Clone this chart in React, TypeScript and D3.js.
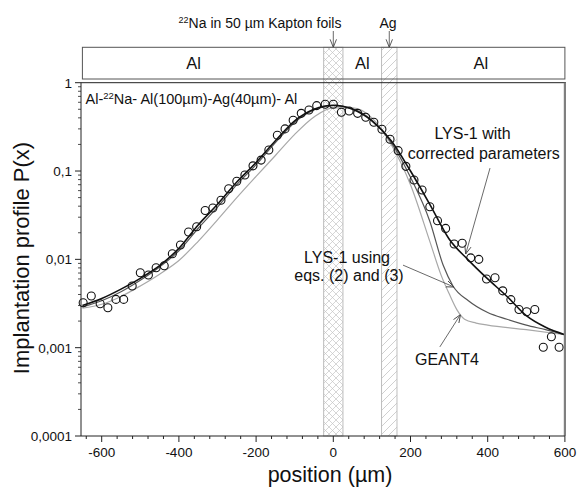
import React from "react";
import * as d3 from "d3";

// ---------- data ----------
const measX = [-648,-627,-604,-584,-563,-543,-521,-500,-479,-459,-438,-417,-396,-375,-354,-332,-312,-291,-271,-250,-229,-208,-187,-167,-145,-125,-104,-83,-63,-43,-21,0,21,41,63,84,105,126,147,168,188,209,230,250,270,291,313,334,356,377,397,419,439,460,481,501,522,544,565,585];
const measP = [0.00323,0.00384,0.00314,0.00283,0.00352,0.00352,0.00499,0.00705,0.00664,0.00803,0.00847,0.01157,0.01452,0.0204,0.0234,0.0357,0.0381,0.0466,0.063,0.0767,0.09,0.1145,0.133,0.173,0.254,0.3,0.375,0.45,0.49,0.55,0.57,0.57,0.462,0.478,0.45,0.406,0.356,0.297,0.229,0.17,0.113,0.079,0.061,0.0394,0.0274,0.0224,0.0149,0.0152,0.0104,0.01,0.006,0.0062,0.0044,0.0035,0.0027,0.00255,0.0027,0.00101,0.00133,0.00101];

const lysCorrX = [-650,-600,-550,-500,-450,-400,-350,-300,-250,-200,-150,-100,-50,0,50,100,150,200,250,300,350,400,450,500,550,600];
const lysCorrP = [0.003,0.0036,0.0046,0.0061,0.0085,0.0133,0.0245,0.042,0.075,0.125,0.22,0.37,0.5,0.555,0.5,0.37,0.22,0.1,0.042,0.017,0.0098,0.006,0.0038,0.0023,0.0017,0.0014];

const lysEqX = [-650,-600,-550,-500,-450,-400,-350,-300,-250,-200,-150,-100,-50,0,50,100,150,200,250,285,310,350,400,450,500,550,600];
const lysEqP = [0.0029,0.0034,0.0043,0.0058,0.0082,0.0125,0.0225,0.039,0.07,0.118,0.21,0.355,0.49,0.55,0.505,0.375,0.21,0.085,0.027,0.0085,0.005,0.0034,0.0025,0.0021,0.0018,0.0016,0.0014];

const geantX = [-650,-600,-550,-500,-450,-400,-350,-300,-250,-200,-150,-100,-50,0,50,100,150,200,250,280,300,320,340,370,400,500,600];
const geantP = [0.0028,0.0031,0.0038,0.005,0.0068,0.0097,0.016,0.028,0.05,0.087,0.15,0.26,0.41,0.52,0.52,0.4,0.2,0.07,0.016,0.0065,0.0041,0.0027,0.0021,0.0019,0.0018,0.0016,0.0014];

const layerNames = ["Al", "Al", "Al"];
const layerCenters = [-362, 75, 382];
const kapton = [-25, 25];
const silver = [125, 165];

const xMajor = [-600, -400, -200, 0, 200, 400, 600];
const xTickLabels = ["-600", "-400", "-200", "0", "200", "400", "600"];
const yMajor = [0.0001, 0.001, 0.01, 0.1, 1];
const yTickLabels = ["0,0001", "0,001", "0,01", "0,1", "1"];

// ---------- layout ----------
const W = 577, H = 488;
const FONT = "'Liberation Sans', Arial, Helvetica, sans-serif";

export default function App() {
  const x = d3.scaleLinear().domain([-650, 600]).range([82.4, 564.9]);
  const y = d3.scaleLog().domain([1e-4, 1]).range([436, 82.7]);
  const x0 = x(-650), x1 = x(600), yb = y(1e-4), yt = y(1);
  const boxTop = 47.3, boxBot = 79;
  const axisX = 81;

  const line = d3
    .line<[number, number]>()
    .x((d) => x(d[0]))
    .y((d) => y(d[1]))
    .curve(d3.curveMonotoneX);
  const mk = (xs: number[], ps: number[]) => xs.map((v, i) => [v, ps[i]] as [number, number]);

  const xMinor = d3.range(-640, 601, 40).filter((v) => !xMajor.includes(v));
  const yMinor: number[] = [];
  [1e-4, 1e-3, 1e-2, 1e-1].forEach((d) => {
    for (let k = 2; k <= 9; k++) yMinor.push(k * d);
  });

  const arrow = (x1a: number, y1a: number, x2a: number, y2a: number, key: string) => (
    <line key={key} x1={x1a} y1={y1a} x2={x2a} y2={y2a} stroke="#444" strokeWidth={0.8} markerEnd="url(#ah)" />
  );

  return (
    <svg width={W} height={H} style={{ position: "absolute", left: 0, top: 0, background: "#fff" }} fontFamily={FONT}>
      <defs>
        <pattern id="cross" patternUnits="userSpaceOnUse" width="7" height="7">
          <path d="M0,0 L7,7 M7,0 L0,7" stroke="#c4c4c4" strokeWidth="0.7" fill="none" />
        </pattern>
        <pattern id="diag" patternUnits="userSpaceOnUse" width="8" height="8">
          <path d="M0,8 L8,0 M-2,2 L2,-2 M6,10 L10,6" stroke="#c4c4c4" strokeWidth="0.8" fill="none" />
        </pattern>
        <marker id="ah" viewBox="0 0 10 10" refX="10" refY="5" markerWidth="8" markerHeight="8" markerUnits="userSpaceOnUse" orient="auto">
          <path d="M0,1 L10,5 L0,9" fill="none" stroke="#444" strokeWidth="1.1" />
        </marker>
      </defs>
      <rect x={0} y={0} width={W} height={H} fill="#fff" />

      {/* hatched layers */}
      <rect x={x(kapton[0])} y={boxTop} width={x(kapton[1]) - x(kapton[0])} height={yb - boxTop} fill="url(#cross)" stroke="#bdbdbd" strokeWidth={1} />
      <rect x={x(silver[0])} y={boxTop} width={x(silver[1]) - x(silver[0])} height={yb - boxTop} fill="url(#diag)" stroke="#bdbdbd" strokeWidth={1} />

      {/* top layer box */}
      <rect x={x0} y={boxTop} width={x1 - x0} height={boxBot - boxTop} fill="none" stroke="#555" strokeWidth={1} />
      {layerNames.map((n, i) => (
        <text key={"ln" + i} x={x(layerCenters[i])} y={69} fontSize={16.5} textAnchor="middle" fill="#111">{n}</text>
      ))}

      {/* curves */}
      <path d={line(mk(geantX, geantP)) || ""} fill="none" stroke="#a8a8a8" strokeWidth={1.2} />
      <path d={line(mk(lysEqX, lysEqP)) || ""} fill="none" stroke="#555" strokeWidth={1.2} />
      <path d={line(mk(lysCorrX, lysCorrP)) || ""} fill="none" stroke="#111" strokeWidth={1.6} />

      {/* measured points */}
      {measX.map((v, i) => (
        <circle key={"c" + i} cx={x(v)} cy={y(measP[i])} r={4} fill="none" stroke="#111" strokeWidth={1.1} />
      ))}

      {/* frame */}
      <line x1={axisX} y1={yt} x2={x1 + 1} y2={yt} stroke="#222" strokeWidth={1} />
      <line x1={x1} y1={yt} x2={x1} y2={yb} stroke="#808080" strokeWidth={2.2} />
      <line x1={axisX} y1={yt} x2={axisX} y2={yb} stroke="#222" strokeWidth={1} />
      <line x1={axisX} y1={yb} x2={x1} y2={yb} stroke="#222" strokeWidth={1} />

      {/* x ticks */}
      {xMajor.map((v, i) => (
        <g key={"xt" + i}>
          <line x1={x(v)} y1={yb} x2={x(v)} y2={yb + 6} stroke="#222" strokeWidth={1} />
          <text x={x(v)} y={457} fontSize={13.5} textAnchor="middle" fill="#111">{xTickLabels[i]}</text>
        </g>
      ))}
      {xMinor.map((v, i) => (
        <line key={"xm" + i} x1={x(v)} y1={yb} x2={x(v)} y2={yb + 3} stroke="#222" strokeWidth={1} />
      ))}

      {/* y ticks */}
      {yMajor.map((v, i) => (
        <g key={"yt" + i}>
          <line x1={axisX - 6} y1={y(v)} x2={axisX} y2={y(v)} stroke="#222" strokeWidth={1} />
          <text x={72} y={y(v) + 5} fontSize={13.5} textAnchor="end" fill="#111">{yTickLabels[i]}</text>
        </g>
      ))}
      {yMinor.map((v, i) => (
        <line key={"ym" + i} x1={axisX - 3} y1={y(v)} x2={axisX} y2={y(v)} stroke="#222" strokeWidth={0.8} />
      ))}

      {/* axis titles */}
      <text x={330} y={482} fontSize={21.5} textAnchor="middle" fill="#111">position  (µm)</text>
      <text transform={`translate(29,${258}) rotate(-90)`} fontSize={22} textAnchor="middle" fill="#111">Implantation profile P(x)</text>

      {/* top annotations */}
      <text x={260} y={28} fontSize={14} textAnchor="middle" fill="#111">
        <tspan fontSize={9} dy={-5}>22</tspan>
        <tspan dy={5}>Na in 50 µm Kapton foils</tspan>
      </text>
      <text x={388} y={28} fontSize={14} textAnchor="middle" fill="#111">Ag</text>
      {arrow(x(0), 31, x(0), boxTop, "a1")}
      {arrow(x(145), 31, x(145), boxTop, "a2")}

      {/* inner label */}
      <text x={85.5} y={104} fontSize={14.5} fill="#111">
        <tspan>Al-</tspan>
        <tspan fontSize={9.5} dy={-5}>22</tspan>
        <tspan dy={5}>Na- Al(100µm)-Ag(40µm)- Al</tspan>
      </text>

      {/* curve annotations */}
      <text x={472.5} y={139} fontSize={16} textAnchor="middle" fill="#111">LYS-1 with</text>
      <text x={483.8} y={159} fontSize={16} textAnchor="middle" fill="#111">corrected parameters</text>
      {arrow(x(406), y(0.108), x(343), y(0.0115), "a3")}

      <text x={347} y={262.5} fontSize={16} textAnchor="middle" fill="#111">LYS-1 using</text>
      <text x={349} y={281} fontSize={16} textAnchor="middle" fill="#111">eqs. (2) and (3)</text>
      {arrow(x(180.6), y(0.0086), x(312.7), y(0.00486), "a4")}

      <text x={447} y={365} fontSize={16} textAnchor="middle" fill="#111">GEANT4</text>
      {arrow(x(276), y(0.00102), x(329.5), y(0.00237), "a5")}
    </svg>
  );
}
